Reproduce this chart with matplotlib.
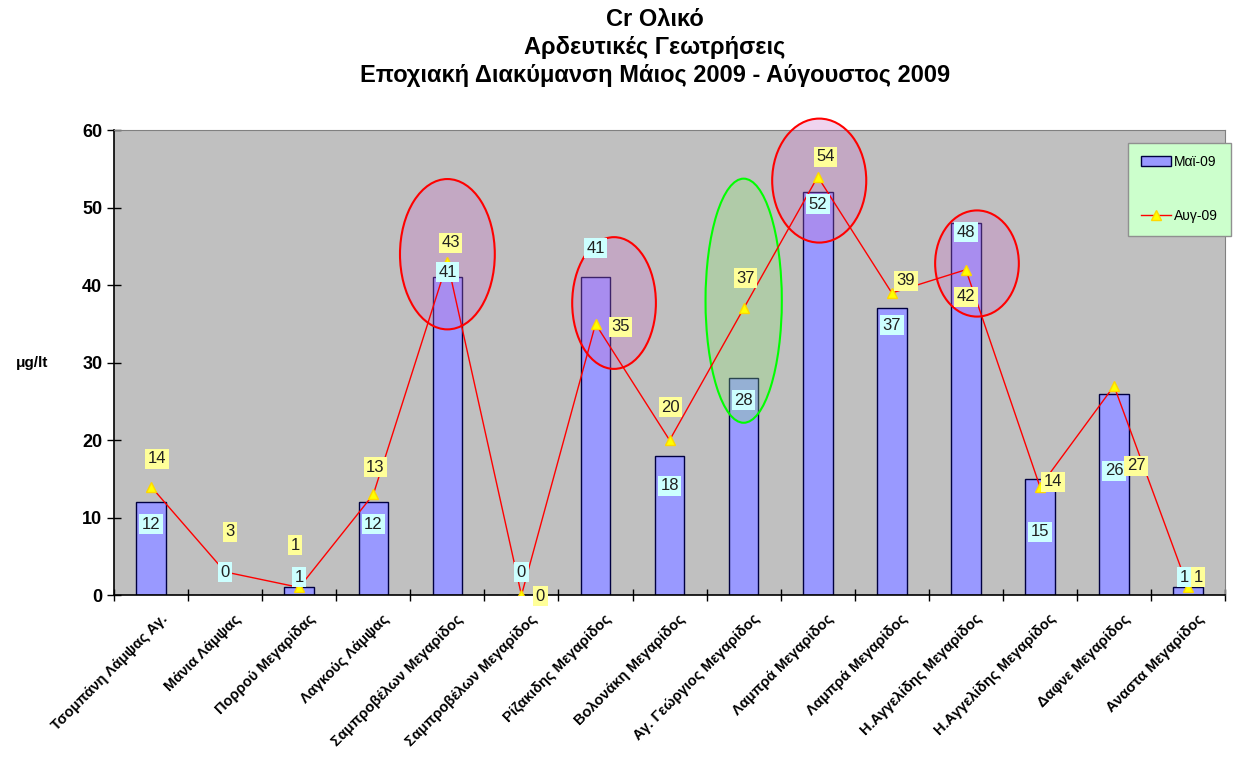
import matplotlib
matplotlib.use("Agg")
import matplotlib.pyplot as plt
from matplotlib.patches import Ellipse
from matplotlib.lines import Line2D
from matplotlib.patches import Patch
import numpy as np

plt.rcParams['font.family'] = ['Liberation Sans', 'DejaVu Sans']

# Sampling sites (irrigation boreholes)
sites = ["Τσομπάνη Λάμψας Αγ.", "Μάνια Λάμψας", "Πορρού Μεγαρίδας",
         "Λαγκούς Λάμψας", "Σαμπροβέλων Μεγαρίδος", "Σαμπροβέλων Μεγαρίδος",
         "Ρίζακιδης Μεγαρίδος", "Βολονάκη Μεγαρίδος", "Αγ. Γεώργιος Μεγαρίδος",
         "Λαμπρά Μεγαρίδος", "Λαμπρά Μεγαρίδος", "Η.Αγγελίδης Μεγαρίδος",
         "Η.Αγγελίδης Μεγαρίδος", "Δαφνε Μεγαρίδος", "Αναστα Μεγαρίδος"]

may_09 = [12, 0, 1, 12, 41, 0, 41, 18, 28, 52, 37, 48, 15, 26, 1]
aug_09 = [14, 3, 1, 13, 43, 0, 35, 20, 37, 54, 39, 42, 14, 27, 1]

# label offsets in pixels (layout only)
may_lbl_off = [(0, -22), (0, 23), (0, 10), (0, -22), (0, 5), (0, 23), (0, 29), (0, -30),
               (0, -22), (0, -12), (0, -17), (0, -9), (0, -53), (0, -77), (-4, 10)]
aug_lbl_off = [(6, 28), (5, 40), (-4, 42), (2, 27), (3, 19), (19, -1), (25, -3), (1, 33),
               (2, 30), (8, 20), (14, 12), (0, -27), (13, 5), (22, -80), (10, 10)]

# highlighted groups: (index, centre value, x-offset, width, height, colour)
highlights = [(4, 44, 0.0, 1.28, 19.4, 'red'),
              (6, 37.7, 0.25, 1.13, 17, 'red'),
              (8, 38, 0.0, 1.03, 31.5, 'lime'),
              (9, 53.5, 0.02, 1.27, 16, 'red'),
              (11, 42.8, 0.15, 1.13, 13.7, 'red')]

fig = plt.figure(figsize=(12.4, 7.66), dpi=100)
ax = fig.add_axes([0.092, 0.223, 0.896, 0.607])
ax.set_facecolor('#c0c0c0')

x = np.arange(len(sites))
ax.bar(x, may_09, width=0.4, color='#9999ff', edgecolor='#000040', linewidth=1, zorder=2)
ax.plot(x, aug_09, color='red', lw=1, marker='^', markersize=7,
        markerfacecolor='#ffff00', markeredgecolor='#ffd700', zorder=4)

for i, h, dx, w, hh, c in highlights:
    if c == 'red':
        fc = (0.8, 0.45, 0.8, 0.3)
    else:
        fc = (0.55, 0.9, 0.45, 0.3)
    ax.add_patch(Ellipse((i + dx, h), w, hh, facecolor=fc, edgecolor=c, lw=1.5,
                         zorder=3, clip_on=False))

for i in range(len(sites)):
    ax.annotate(str(may_09[i]), (x[i], may_09[i]), xytext=may_lbl_off[i],
                textcoords='offset pixels', ha='center', va='center', fontsize=12,
                color='#202020', zorder=6,
                bbox=dict(boxstyle='square,pad=0.15', fc='#ccffff', ec='none'))
    ax.annotate(str(aug_09[i]), (x[i], aug_09[i]), xytext=aug_lbl_off[i],
                textcoords='offset pixels', ha='center', va='center', fontsize=12,
                color='#202020', zorder=6,
                bbox=dict(boxstyle='square,pad=0.15', fc='#ffff99', ec='none'))

ax.set_xlim(-0.5, len(sites) - 0.5)
ax.set_ylim(0, 60)
ax.set_yticks(range(0, 61, 10))
ax.set_xticks(x + 0.12)
ax.set_xticklabels(sites, rotation=45, ha='right', rotation_mode='anchor',
                   fontsize=10.5, fontweight='bold')
ax.set_xticks(np.arange(-0.5, len(sites), 1), minor=True)
ax.tick_params(axis='x', which='major', length=0, pad=12)
ax.tick_params(axis='x', which='minor', direction='inout', length=8, width=1)
ax.tick_params(axis='y', direction='inout', length=10, width=1, labelsize=13)
for lbl in ax.get_yticklabels():
    lbl.set_fontweight('bold')
ax.spines['top'].set_color('#808080')
ax.spines['right'].set_color('#808080')
ax.spines['left'].set_linewidth(1.2)
ax.spines['bottom'].set_linewidth(1.2)
ax.set_ylabel('μg/lt', rotation=0, fontsize=11, fontweight='bold', labelpad=36, va='center')

fig.text(0.528, 0.99, "Cr Ολικό\nΑρδευτικές Γεωτρήσεις\nΕποχιακή Διακύμανση Μάιος 2009 - Αύγουστος 2009",
         ha='center', va='top', fontsize=17, fontweight='bold', linespacing=1.3)

handles = [Patch(facecolor='#9999ff', edgecolor='#000040', label='Μαϊ-09'),
           Line2D([0], [0], color='red', lw=1, marker='^', markersize=7,
                  markerfacecolor='#ffff00', markeredgecolor='#ffd700', label='Αυγ-09')]
leg = fig.legend(handles=handles, loc='upper right', bbox_to_anchor=(0.998, 0.823),
                 fontsize=10, labelspacing=2.9, frameon=True, fancybox=False,
                 borderpad=0.9, handlelength=2.2, handletextpad=0.2)
leg.get_frame().set_facecolor('#ccffcc')
leg.get_frame().set_edgecolor('#909090')
leg.get_frame().set_alpha(1)

fig.savefig('out.png', dpi=100)
